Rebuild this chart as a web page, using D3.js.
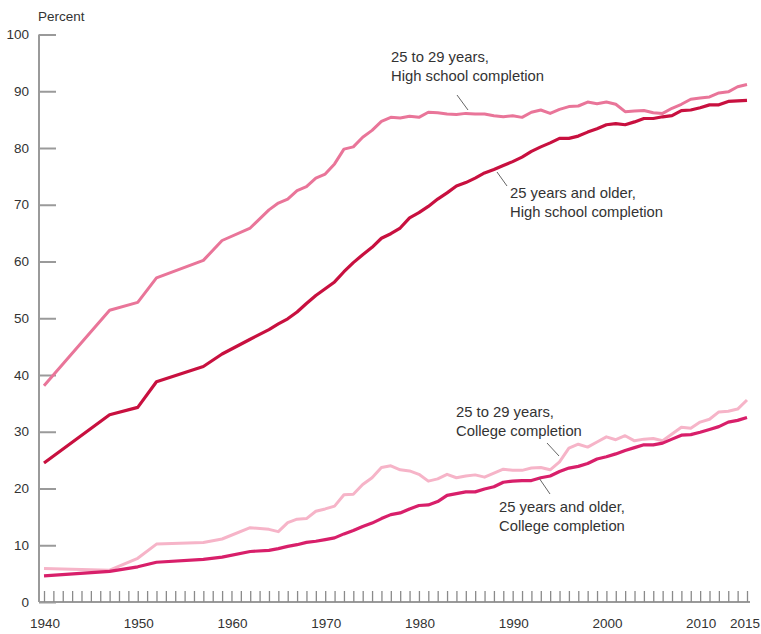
<!DOCTYPE html>
<html>
<head>
<meta charset="utf-8">
<script src="https://cdn.jsdelivr.net/npm/d3@7/dist/d3.min.js"></script>
<style>
  body { margin: 0; background: #fff; }
  svg { display: block; }
  text { font-family: "Liberation Sans", Arial, sans-serif; fill: #333; }
</style>
</head>
<body>
<svg id="chart" width="761" height="634"></svg>
<script>
const years = [1940,1947,1950,1952,1957,1959,1962,1964,1965,1966,1967,1968,1969,1970,1971,1972,1973,1974,1975,1976,1977,1978,1979,1980,1981,1982,1983,1984,1985,1986,1987,1988,1989,1990,1991,1992,1993,1994,1995,1996,1997,1998,1999,2000,2001,2002,2003,2004,2005,2006,2007,2008,2009,2010,2011,2012,2013,2014,2015];

const hs2529 = [38.1,51.4,52.8,57.1,60.2,63.7,65.9,69.1,70.3,71.0,72.5,73.2,74.7,75.4,77.2,79.8,80.2,81.9,83.1,84.7,85.4,85.3,85.6,85.4,86.3,86.2,86.0,85.9,86.1,86.0,86.0,85.7,85.5,85.7,85.4,86.3,86.7,86.1,86.8,87.3,87.4,88.1,87.8,88.1,87.7,86.4,86.5,86.6,86.2,86.1,87.0,87.7,88.6,88.8,89.0,89.7,89.9,90.8,91.2];

const hs25plus = [24.5,33.0,34.3,38.8,41.5,43.7,46.3,48.0,49.0,49.9,51.1,52.6,54.0,55.2,56.4,58.2,59.8,61.2,62.5,64.1,64.9,65.9,67.7,68.6,69.7,71.0,72.1,73.3,73.9,74.7,75.6,76.2,76.9,77.6,78.4,79.4,80.2,80.9,81.7,81.7,82.1,82.8,83.4,84.1,84.3,84.1,84.6,85.2,85.2,85.5,85.7,86.6,86.7,87.1,87.6,87.6,88.2,88.3,88.4];

const col2529 = [5.9,5.6,7.7,10.2,10.5,11.1,13.1,12.8,12.4,14.0,14.6,14.7,16.0,16.4,16.9,18.9,19.0,20.7,21.9,23.7,24.0,23.3,23.1,22.5,21.3,21.7,22.5,21.9,22.2,22.4,22.0,22.7,23.4,23.2,23.2,23.6,23.7,23.3,24.7,27.1,27.8,27.3,28.2,29.1,28.6,29.3,28.4,28.7,28.8,28.4,29.6,30.8,30.6,31.7,32.2,33.5,33.6,34.0,35.6];

const col25plus = [4.6,5.4,6.2,7.0,7.5,7.9,8.9,9.1,9.4,9.8,10.1,10.5,10.7,11.0,11.3,12.0,12.6,13.3,13.9,14.7,15.4,15.7,16.4,17.0,17.1,17.7,18.8,19.1,19.4,19.4,19.9,20.3,21.1,21.3,21.4,21.4,21.9,22.2,23.0,23.6,23.9,24.4,25.2,25.6,26.1,26.7,27.2,27.7,27.7,28.0,28.7,29.4,29.5,29.9,30.4,30.9,31.7,32.0,32.5];

const yTicks = [0,10,20,30,40,50,60,70,80,90,100];
const xTickLabels = [1940,1950,1960,1970,1980,1990,2000,2010,2015];

const series = [
  { name: "25 to 29 years, College completion", values: col2529, color: "#f6b4c8", width: 3 },
  { name: "25 years and older, College completion", values: col25plus, color: "#d81f6a", width: 3.2 },
  { name: "25 to 29 years, High school completion", values: hs2529, color: "#e97599", width: 3 },
  { name: "25 years and older, High school completion", values: hs25plus, color: "#c8103f", width: 3.2 }
];

const svg = d3.select("#chart");
const x = d3.scaleLinear().domain([1940, 2015]).range([44, 747]);
const y = d3.scaleLinear().domain([0, 100]).range([602, 34.5]);

const axisColor = "#9a9a9a";

// Y axis
const yAxis = d3.axisRight(y).tickValues(yTicks).tickSize(17).tickFormat("");
const gy = svg.append("g").attr("transform", `translate(39,0)`).call(yAxis);
gy.select(".domain").attr("stroke", axisColor).attr("stroke-width", 2).attr("d", `M0,${y(100)}V${y(0)}`);
gy.selectAll(".tick line").attr("stroke", axisColor).attr("stroke-width", 2);
svg.append("g").selectAll("text").data(yTicks).join("text")
  .attr("x", 29).attr("y", d => y(d)).attr("dy", "0.35em")
  .attr("text-anchor", "end").attr("font-size", 13.5).text(d => d);

// X axis
const allYears = d3.range(1940, 2016);
const xAxis = d3.axisTop(x).tickValues(allYears).tickSize(11).tickFormat("");
const gx = svg.append("g").attr("transform", `translate(0,${y(0)})`).call(xAxis);
gx.select(".domain").attr("stroke", axisColor).attr("stroke-width", 2).attr("d", `M39,0H750`);
gx.selectAll(".tick line").attr("stroke", "#8a8a8a").attr("stroke-width", 1.3);
svg.append("g").selectAll("text").data(xTickLabels).join("text")
  .attr("x", d => x(d) + (d === 2015 ? -2 : 1)).attr("y", 628)
  .attr("text-anchor", "middle").attr("font-size", 13.5).text(d => d);

svg.append("text").attr("x", 38).attr("y", 21).attr("font-size", 13.5).text("Percent");

// Lines
const line = d3.line().x((d, i) => x(years[i])).y(d => y(d));
svg.append("g").selectAll("path").data(series).join("path")
  .attr("d", d => line(d.values))
  .attr("fill", "none")
  .attr("stroke", d => d.color)
  .attr("stroke-width", d => d.width)
  .attr("stroke-linejoin", "round");

// Annotations
const notes = [
  { lines: ["25 to 29 years,", "High school completion"], tx: 391, ty: 62, l: [457, 95, 468, 110] },
  { lines: ["25 years and older,", "High school completion"], tx: 510, ty: 198, l: [497, 172, 507, 186] },
  { lines: ["25 to 29 years,", "College completion"], tx: 456, ty: 417, l: [547, 443, 559, 456] },
  { lines: ["25 years and older,", "College completion"], tx: 499, ty: 512, l: [539, 478, 550, 494] }
];
const ng = svg.append("g");
notes.forEach(n => {
  ng.append("line").attr("x1", n.l[0]).attr("y1", n.l[1]).attr("x2", n.l[2]).attr("y2", n.l[3])
    .attr("stroke", "#666").attr("stroke-width", 1);
  n.lines.forEach((t, i) => {
    ng.append("text").attr("x", n.tx).attr("y", n.ty + i * 19).attr("font-size", 14.8).text(t);
  });
});
</script>
</body>
</html>
